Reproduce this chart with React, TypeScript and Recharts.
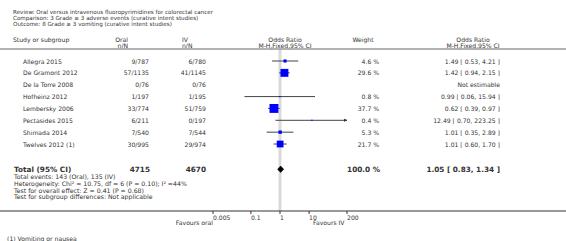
import { ComposedChart, XAxis, YAxis, Scatter, ErrorBar, Area, ReferenceLine } from 'recharts'

const STUDIES = ['Allegra 2015', 'De Gramont 2012', 'De la Torre 2008', 'Hofheinz 2012', 'Lembersky 2006', 'Pectasides 2015', 'Shimada 2014', 'Twelves 2012 (1)']
const ORAL = ['9/787', '57/1135', '0/76', '1/197', '33/774', '6/211', '7/540', '30/995']
const IV = ['6/780', '41/1145', '0/76', '1/195', '51/759', '0/197', '7/544', '29/974']
const WEIGHT: (number | null)[] = [4.6, 29.6, null, 0.8, 37.7, 0.4, 5.3, 21.7]
const OR: (number | null)[] = [1.49, 1.42, null, 0.99, 0.62, 12.49, 1.01, 1.01]
const LO: (number | null)[] = [0.53, 0.94, null, 0.06, 0.39, 0.70, 0.35, 0.60]
const HI: (number | null)[] = [4.21, 2.15, null, 15.94, 0.97, 223.25, 2.89, 1.70]

const TOTAL_ORAL = 4715
const TOTAL_IV = 4670
const TOTAL_WEIGHT = 100.0
const TOTAL_OR = 1.05
const TOTAL_LO = 0.83
const TOTAL_HI = 1.34

const STATS = [
  'Total events: 143 (Oral), 135 (IV)',
  'Heterogeneity: Chi² = 10.75, df = 6 (P = 0.10); I² =44%',
  'Test for overall effect: Z = 0.41 (P = 0.68)',
  'Test for subgroup differences: Not applicable',
]

const TICKS = [0.005, 0.1, 1, 10, 200]
const X_MIN = 0.005
const X_MAX = 200

// layout
const W = 566
const H = 241
const ROW0 = 61
const ROW_H = 11.86
const PLOT_TOP = 49
const AXIS_Y = 211
const TOTAL_ROW = STUDIES.length + 1.13
const Y_MIN = (PLOT_TOP - ROW0) / ROW_H
const Y_MAX = (AXIS_Y - ROW0) / ROW_H
const rowY = (i: number) => ROW0 + ROW_H * i

const FONT = 'DejaVu Sans'
const TXT = '#333'
const FS = 6.1

const fmt = (n: number) => n.toFixed(2)

const points = STUDIES.map((_, i) => ({ i, x: OR[i], y: i, w: WEIGHT[i], lo: LO[i], hi: HI[i] }))
  .filter(p => p.x != null)
  .map(p => ({ ...p, err: [p.x! - p.lo!, Math.min(p.hi!, X_MAX) - p.x!] }))

const arrows = points.filter(p => p.hi! > X_MAX).map(p => ({ x: X_MAX, y: p.y }))

const diamond = [
  { x: TOTAL_LO, band: [TOTAL_ROW, TOTAL_ROW] },
  { x: TOTAL_OR, band: [TOTAL_ROW - 0.27, TOTAL_ROW + 0.27] },
  { x: TOTAL_HI, band: [TOTAL_ROW, TOTAL_ROW] },
]

// eslint-disable-next-line @typescript-eslint/no-explicit-any
const Square = (props: any) => {
  const { cx, cy, payload } = props
  const s = Math.max(1.2, 1.45 * Math.sqrt(payload.w))
  return <rect x={cx - s / 2} y={cy - s / 2} width={s} height={s} fill="#0000ff" />
}

// eslint-disable-next-line @typescript-eslint/no-explicit-any
const Arrow = (props: any) => {
  const { cx, cy } = props
  return <polygon points={`${cx - 3},${cy - 1.5} ${cx + 0.5},${cy} ${cx - 3},${cy + 1.5}`} fill="#333" />
}

// eslint-disable-next-line @typescript-eslint/no-explicit-any
const AxisTick = (props: any) => {
  const { x, y, payload } = props
  return (
    <text x={x} y={y + 1} textAnchor="start" dominantBaseline="central" fontSize={FS} fill={TXT} fontFamily={FONT}>
      {String(payload.value)}
    </text>
  )
}

type TProps = { x: number; y: number; a?: 'start' | 'middle' | 'end'; b?: boolean; fs?: number; children: React.ReactNode }
const T = ({ x, y, a = 'start', b = false, fs = FS, children }: TProps) => (
  <text x={x} y={y} textAnchor={a} dominantBaseline="central" fontSize={fs} fontWeight={b ? 'bold' : 'normal'} fill={TXT} fontFamily={FONT}>
    {children}
  </text>
)

export default function App() {
  return (
    <div style={{ position: 'absolute', left: 0, top: 0, width: W, height: H, background: '#fff' }}>
      <ComposedChart width={W} height={H} data={diamond} margin={{ top: PLOT_TOP, right: W - 347, bottom: 0, left: 213 }}>
        <XAxis
          type="number" dataKey="x" scale="log" domain={[X_MIN, X_MAX]} ticks={TICKS} allowDataOverflow
          axisLine={false} tickSize={3} tickLine={{ stroke: '#333' }} height={H - AXIS_Y} tick={<AxisTick />} interval={0}
        />
        <YAxis type="number" dataKey="y" domain={[Y_MIN, Y_MAX]} reversed hide allowDataOverflow />
        <ReferenceLine x={1} stroke="#dadada" strokeWidth={3} zIndex={50} />
        <Area dataKey="band" type="linear" fill="#000" fillOpacity={1} stroke="#000" strokeWidth={0.6} dot={false} activeDot={false} isAnimationActive={false} zIndex={700} />
        <Scatter data={points} shape={<Square />} isAnimationActive={false}>
          <ErrorBar dataKey="err" direction="x" width={0} stroke="#444" strokeWidth={1} />
        </Scatter>
        <Scatter data={arrows} shape={<Arrow />} isAnimationActive={false} />
      </ComposedChart>

      <svg width={W} height={H} style={{ position: 'absolute', left: 0, top: 0, pointerEvents: 'none' }}>
        <T x={13} y={12.3} fs={5.6}>Review:  Oral versus intravenous fluoropyrimidines for colorectal cancer</T>
        <T x={13} y={18.3} fs={5.6}>Comparison:  3 Grade ≥ 3 adverse events (curative intent studies)</T>
        <T x={13} y={24.3} fs={5.6}>Outcome:  8 Grade ≥ 3 vomiting (curative intent studies)</T>

        <T x={13} y={39}>Study or subgroup</T>
        <T x={128} y={39} a="end">Oral</T>
        <T x={128} y={45} a="end">n/N</T>
        <T x={182} y={39}>IV</T>
        <T x={182} y={45}>n/N</T>
        <T x={285} y={39} a="middle">Odds Ratio</T>
        <T x={285} y={45} a="middle">M-H,Fixed,95% CI</T>
        <T x={363} y={39} a="middle">Weight</T>
        <T x={473} y={39} a="middle">Odds Ratio</T>
        <T x={473} y={45} a="middle">M-H,Fixed,95% CI</T>
        <line x1={0} x2={W} y1={PLOT_TOP} y2={PLOT_TOP} stroke="#999" strokeWidth={1.5} />

        {STUDIES.map((s, i) => (
          <g key={s}>
            <T x={23} y={rowY(i)}>{s}</T>
            <T x={149} y={rowY(i)} a="end">{ORAL[i]}</T>
            <T x={206} y={rowY(i)} a="end">{IV[i]}</T>
            {WEIGHT[i] != null && <T x={379} y={rowY(i)} a="end">{`${WEIGHT[i]!.toFixed(1)} %`}</T>}
            <T x={500} y={rowY(i)} a="end">
              {OR[i] != null ? `${fmt(OR[i]!)} [ ${fmt(LO[i]!)}, ${fmt(HI[i]!)} ]` : 'Not estimable'}
            </T>
          </g>
        ))}

        <T x={14} y={rowY(TOTAL_ROW)} b fs={7.3}>Total (95% CI)</T>
        <T x={150} y={rowY(TOTAL_ROW)} a="end" b fs={7.3}>{TOTAL_ORAL}</T>
        <T x={206} y={rowY(TOTAL_ROW)} a="end" b fs={7.3}>{TOTAL_IV}</T>
        <T x={380} y={rowY(TOTAL_ROW)} a="end" b fs={7.3}>{`${TOTAL_WEIGHT.toFixed(1)} %`}</T>
        <T x={500} y={rowY(TOTAL_ROW)} a="end" b fs={7.3}>{`${fmt(TOTAL_OR)} [ ${fmt(TOTAL_LO)}, ${fmt(TOTAL_HI)} ]`}</T>
        {STATS.map((s, k) => (
          <T key={s} x={14} y={176.2 + 6.9 * k} fs={6.2}>{s}</T>
        ))}

        <line x1={0} x2={W} y1={AXIS_Y} y2={AXIS_Y} stroke="#333" strokeWidth={1} />
        <T x={213} y={222.5} a="end">Favours oral</T>
        <T x={313} y={222.5}>Favours IV</T>
        <T x={7} y={238}>(1) Vomiting or nausea</T>
      </svg>
    </div>
  )
}
